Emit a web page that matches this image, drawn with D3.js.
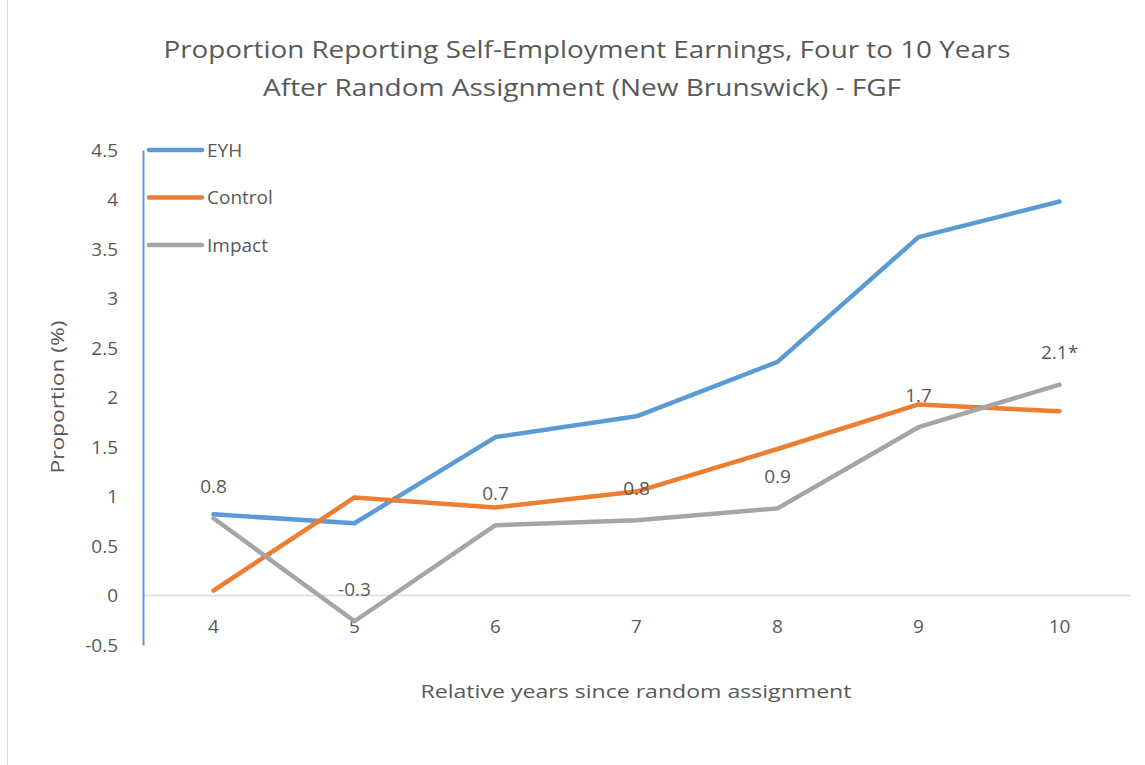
<!DOCTYPE html>
<html><head><meta charset="utf-8">
<script src="https://cdn.jsdelivr.net/npm/d3@7"></script>
<style>body{margin:0;background:#fff}svg{display:block}text{font-family:"Open Sans",sans-serif;fill:#595959}</style>
</head><body><svg id="c" width="1145" height="765"></svg>
<script>
const years = ["4","5","6","7","8","9","10"];
const eyh = [0.82,0.73,1.60,1.81,2.36,3.62,3.98];
const control = [0.05,0.99,0.89,1.05,1.48,1.93,1.86];
const impact = [0.78,-0.26,0.71,0.76,0.88,1.70,2.13];
const impactLabels = ["0.8","-0.3","0.7","0.8","0.9","1.7","2.1*"];
const yTicks = [-0.5,0,0.5,1,1.5,2,2.5,3,3.5,4,4.5];
const seriesNames = ["EYH","Control","Impact"];
const colors = ["#5B9BD5","#ED7D31","#A5A5A5"];

const svg = d3.select("#c");
svg.append("rect").attr("x",7.5).attr("y",-2).attr("width",1150).attr("height",780)
  .attr("fill","none").attr("stroke","#D9D9D9");

const x = d3.scaleBand().domain(years).range([143,1130]);
const y = d3.scaleLinear().domain([-0.5,4.5]).range([645,150]);
const cx = d => x(d)+x.bandwidth()/2;

svg.append("line").attr("x1",143).attr("x2",1130).attr("y1",y(0)).attr("y2",y(0))
  .attr("stroke","#D9D9D9").attr("stroke-width",1.5);

const ya = svg.append("g").attr("transform","translate(143,0)")
  .call(d3.axisLeft(y).tickValues(yTicks).tickSize(0).tickPadding(25).tickFormat(d=>String(d)));
ya.select(".domain").attr("stroke","#5B9BD5").attr("stroke-width",2);
ya.selectAll("text").style("font-size","19px").attr("fill","#595959").style("font-family","'Open Sans',sans-serif");

const xa = svg.append("g").attr("transform",`translate(0,${y(0)})`)
  .call(d3.axisBottom(x).tickSize(0).tickPadding(24));
xa.select(".domain").remove();
xa.selectAll("text").style("font-size","19px").attr("fill","#595959").style("font-family","'Open Sans',sans-serif");

const line = d3.line().x((d,i)=>cx(years[i])).y(d=>y(d));
[eyh,control,impact].forEach((s,k)=>{
  svg.append("path").datum(s).attr("d",line).attr("fill","none")
    .attr("stroke",colors[k]).attr("stroke-width",4.5).attr("stroke-linecap","round").attr("stroke-linejoin","round");
});

svg.selectAll(".dl").data(impact).join("text").attr("class","dl")
  .attr("x",(d,i)=>cx(years[i])).attr("y",d=>y(d)-32).attr("dy","0.35em")
  .attr("text-anchor","middle").style("font-size","19px").attr("fill","#404040")
  .text((d,i)=>impactLabels[i]);

const lg = svg.append("g");
seriesNames.forEach((n,i)=>{
  const ly = 150 + i*47.5;
  lg.append("line").attr("x1",149).attr("x2",202).attr("y1",ly).attr("y2",ly)
    .attr("stroke",colors[i]).attr("stroke-width",4.5).attr("stroke-linecap","round");
  lg.append("text").attr("x",207).attr("y",ly).attr("dy","0.35em").style("font-size","19px").text(n);
});

svg.append("text").attr("x",587).attr("y",50).attr("dy","0.35em").attr("text-anchor","middle")
  .style("font-size","24px").attr("textLength",847).attr("lengthAdjust","spacingAndGlyphs")
  .text("Proportion Reporting Self-Employment Earnings, Four to 10 Years");
svg.append("text").attr("x",582).attr("y",88).attr("dy","0.35em").attr("text-anchor","middle")
  .style("font-size","24px").attr("textLength",638).attr("lengthAdjust","spacingAndGlyphs")
  .text("After Random Assignment (New Brunswick) - FGF");
svg.append("text").attr("x",636).attr("y",691).attr("dy","0.35em").attr("text-anchor","middle")
  .style("font-size","19px").attr("textLength",431).attr("lengthAdjust","spacingAndGlyphs")
  .text("Relative years since random assignment");
svg.append("text").attr("transform","translate(57,397) rotate(-90)").attr("dy","0.35em").attr("text-anchor","middle")
  .style("font-size","19px").attr("textLength",153).attr("lengthAdjust","spacingAndGlyphs")
  .text("Proportion (%)");
</script></body></html>
